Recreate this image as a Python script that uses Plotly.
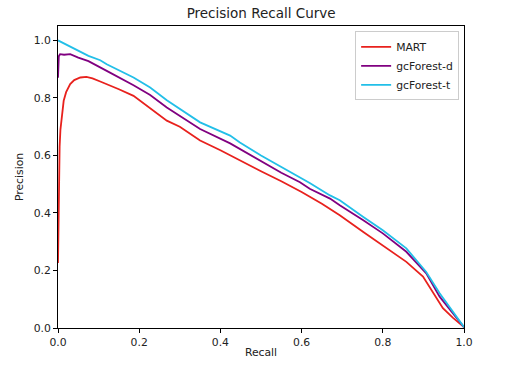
import plotly.graph_objects as go

# MART
mart_recall = [0, 0.001, 0.002, 0.004, 0.006, 0.01, 0.014, 0.02, 0.03, 0.04, 0.055, 0.07, 0.085,
               0.104, 0.12, 0.15, 0.186, 0.22, 0.268, 0.30, 0.35, 0.40, 0.448, 0.50, 0.55, 0.60,
               0.65, 0.694, 0.752, 0.80, 0.858, 0.899, 0.924, 0.948, 0.973, 1.0]
mart_precision = [0.226, 0.40, 0.52, 0.63, 0.69, 0.75, 0.79, 0.82, 0.848, 0.862, 0.871, 0.873, 0.868,
                  0.857, 0.848, 0.83, 0.807, 0.77, 0.721, 0.70, 0.652, 0.618, 0.582, 0.545, 0.51, 0.473,
                  0.432, 0.392, 0.334, 0.288, 0.23, 0.179, 0.121, 0.069, 0.035, 0.003]

# gcForest-d
gcd_recall = [0, 0.002, 0.005, 0.015, 0.03, 0.05, 0.075, 0.104, 0.12, 0.186, 0.227, 0.268, 0.35,
              0.424, 0.448, 0.50, 0.55, 0.596, 0.62, 0.67, 0.694, 0.752, 0.80, 0.858, 0.907, 0.94,
              0.973, 1.0]
gcd_precision = [0.87, 0.945, 0.952, 0.95, 0.952, 0.94, 0.928, 0.905, 0.894, 0.844, 0.81, 0.767, 0.692,
                 0.642, 0.622, 0.58, 0.54, 0.507, 0.484, 0.45, 0.427, 0.375, 0.329, 0.265, 0.19, 0.109,
                 0.052, 0.003]

# gcForest-t
gct_recall = [0, 0.02, 0.05, 0.075, 0.104, 0.12, 0.186, 0.227, 0.268, 0.35, 0.424, 0.448, 0.50,
              0.55, 0.596, 0.62, 0.67, 0.694, 0.752, 0.80, 0.858, 0.907, 0.94, 0.973, 1.0]
gct_precision = [1.0, 0.985, 0.963, 0.946, 0.931, 0.917, 0.871, 0.836, 0.792, 0.715, 0.669, 0.645, 0.60,
                 0.56, 0.525, 0.504, 0.461, 0.444, 0.386, 0.34, 0.277, 0.195, 0.121, 0.057, 0.003]

tick_vals = [0.0, 0.2, 0.4, 0.6, 0.8, 1.0]

FONT = "DejaVu Sans"

fig = go.Figure()
fig.add_trace(go.Scatter(x=mart_recall, y=mart_precision, mode="lines", name="MART",
                         line=dict(color="#e8211d", width=1.8)))
fig.add_trace(go.Scatter(x=gcd_recall, y=gcd_precision, mode="lines", name="gcForest-d",
                         line=dict(color="#800080", width=1.8)))
fig.add_trace(go.Scatter(x=gct_recall, y=gct_precision, mode="lines", name="gcForest-t",
                         line=dict(color="#22bfe8", width=1.8)))

axis_common = dict(
    showline=True, linecolor="black", linewidth=1, mirror=True,
    ticks="outside", ticklen=4, tickcolor="black", tickwidth=1,
    showgrid=False, zeroline=False,
    tickvals=tick_vals, tickformat=".1f",
    tickfont=dict(family=FONT, size=10.8, color="#222"),
    automargin=False,
)

fig.update_layout(
    width=507, height=365,
    margin=dict(l=58, r=43, t=26, b=37),
    paper_bgcolor="white", plot_bgcolor="white",
    font=dict(family=FONT, color="#222"),
    title=dict(text="Precision Recall Curve", x=0.515, xanchor="center",
               y=0.965, yanchor="middle", font=dict(family=FONT, size=13.5, color="#222")),
    xaxis=dict(range=[0, 1], title=dict(text="Recall", standoff=0,
                                        font=dict(family=FONT, size=10.8, color="#222")),
               **axis_common),
    yaxis=dict(range=[0, 1.05], title=dict(text="Precision", standoff=7,
                                           font=dict(family=FONT, size=10.8, color="#222")),
               **axis_common),
    legend=dict(x=0.988, y=0.982, xanchor="right", yanchor="top",
                bgcolor="white", bordercolor="#cccccc", borderwidth=1,
                font=dict(family=FONT, size=10.8, color="#222"),
                tracegroupgap=0, itemwidth=30),
    showlegend=True,
)

fig.write_html("out.html", config={"displayModeBar": False},
               post_script="document.body.style.margin='0px';")
